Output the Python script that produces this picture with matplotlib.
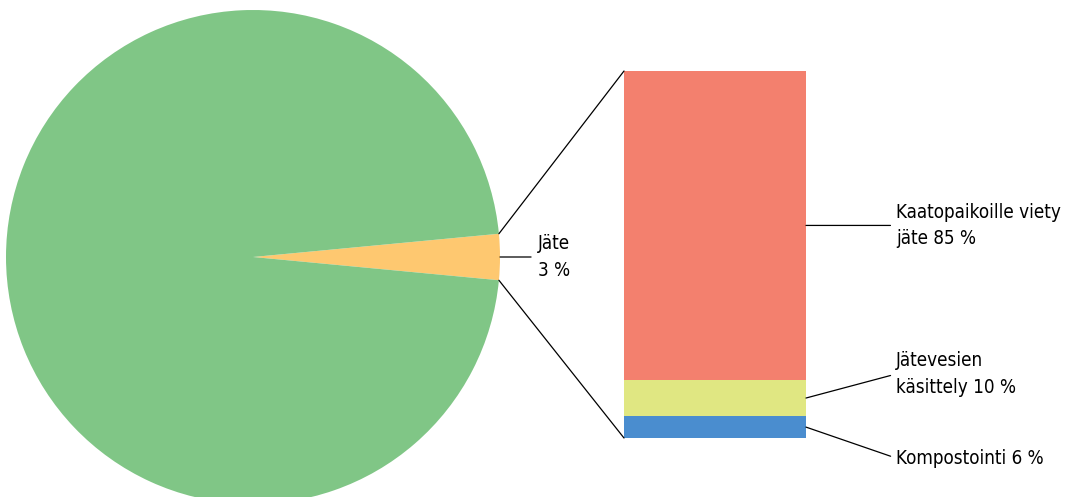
import matplotlib
matplotlib.use('Agg')
import numpy as np
import matplotlib.pyplot as plt
from matplotlib.patches import ConnectionPatch

# main pie
pie_labels = ['Jäte', 'Muu']
pie_values = [3, 97]
pie_colors = ['#FEC870', '#80C686']

# breakdown of the waste slice (bottom to top)
bar_labels = ['Kompostointi 6 %', 'Jätevesien\nkäsittely 10 %', 'Kaatopaikoille viety\njäte 85 %']
bar_values = [6, 10, 85]
bar_colors = ['#4A8DCF', '#E0E782', '#F3806E']
bar_label_offsets = [(90, -31), (90, 24), (90, 0)]

plt.rcParams['font.family'] = ['DejaVu Sans']
plt.rcParams['font.stretch'] = 'condensed'
FS = 13.5
LS = 1.5

W, H = 1066, 497
fig = plt.figure(figsize=(W / 100, H / 100), dpi=100)

# pie axes: centre (253, 257) px, radius 247 px
ax1 = fig.add_axes([6 / W, (H - 504) / H, 494 / W, 494 / H])
half = pie_values[0] / 100 * 360 / 2
wedges, _ = ax1.pie(pie_values, colors=pie_colors, startangle=-half,
                    counterclock=True, radius=1)
ax1.set_xlim(-1, 1)
ax1.set_ylim(-1, 1)
ax1.set_aspect('equal')
ax1.axis('off')

ax1.annotate('Jäte\n3 %', xy=(1, 0), xytext=(38, 0), textcoords='offset pixels',
             ha='left', va='center', fontsize=FS, linespacing=LS,
             arrowprops=dict(arrowstyle='-', color='black', lw=0.9,
                             shrinkA=3, shrinkB=0, relpos=(0, 0.5)))

# bar axes: x 624..806, y 71..438 px
ax2 = fig.add_axes([624 / W, (H - 438) / H, 182 / W, 367 / H])
bottom = 0
for val, col, lab, off in zip(bar_values, bar_colors, bar_labels, bar_label_offsets):
    ax2.bar(0, val, width=1, bottom=bottom, color=col, edgecolor='none')
    ax2.annotate(lab, xy=(0.5, bottom + val / 2), xytext=off, textcoords='offset pixels',
                 ha='left', va='center', fontsize=FS, linespacing=LS,
                 arrowprops=dict(arrowstyle='-', color='black', lw=0.9,
                                 shrinkA=2, shrinkB=0, relpos=(0, 0.5)))
    bottom += val
ax2.set_xlim(-0.5, 0.5)
ax2.set_ylim(0, sum(bar_values))
ax2.axis('off')

# connectors from slice edges to bar corners
for ang, yb in [(half, sum(bar_values)), (-half, 0)]:
    p = (np.cos(np.radians(ang)), np.sin(np.radians(ang)))
    con = ConnectionPatch(xyA=(-0.5, yb), coordsA=ax2.transData,
                          xyB=p, coordsB=ax1.transData,
                          color='black', lw=0.9)
    fig.add_artist(con)

fig.savefig('out.png', dpi=100)
